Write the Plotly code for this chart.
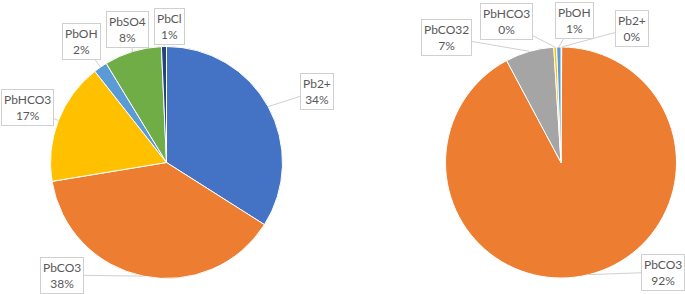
import math
import plotly.graph_objects as go

# ---- data ----
left_labels = ["Pb2+", "PbCO3", "PbHCO3", "PbOH", "PbSO4", "PbCl"]
left_values = [34.0, 38.4, 17.0, 1.9, 8.0, 0.7]

right_labels = ["Pb2+", "PbCO3", "PbCO32", "PbHCO3", "PbOH"]
right_values = [0.1, 92.1, 6.8, 0.4, 0.6]

# ---- styles ----
W, H = 685, 294
COLORS = {
    "Pb2+": "#4472C4", "PbCO3": "#ED7D31", "PbCO32": "#A5A5A5",
    "PbHCO3": "#FFC000", "PbOH": "#5B9BD5", "PbSO4": "#70AD47", "PbCl": "#264478",
}
FONT = dict(family="Lato, Carlito, Calibri, sans-serif", size=12, color="#595959")
LINE_COLOR = "#D0D0D0"

# pie geometry in pixels (cx, cy, r)
left_geom = (166.5, 162.5, 116)
right_geom = (561, 162.5, 115.5)

# label box centres in pixels
left_boxes = {"Pb2+": (317, 91), "PbCO3": (62, 275), "PbHCO3": (27, 108),
              "PbOH": (82, 41), "PbSO4": (127, 29), "PbCl": (169, 27)}
right_boxes = {"Pb2+": (632, 28), "PbCO3": (663, 272), "PbCO32": (446, 37),
               "PbHCO3": (506, 22), "PbOH": (574, 21)}


def domain(geom):
    cx, cy, r = geom
    return dict(x=[(cx - r) / W, (cx + r) / W], y=[1 - (cy + r) / H, 1 - (cy - r) / H])


fig = go.Figure()
annotations = []
for labels, values, geom, boxes in [
    (left_labels, left_values, left_geom, left_boxes),
    (right_labels, right_values, right_geom, right_boxes),
]:
    fig.add_trace(go.Pie(
        labels=labels, values=values, sort=False, direction="clockwise", rotation=0,
        marker=dict(colors=[COLORS[l] for l in labels], line=dict(color="white", width=1)),
        textinfo="none", hoverinfo="label+percent", domain=domain(geom), showlegend=False,
    ))
    total = sum(values)
    cx, cy, r = geom
    cum = 0.0
    for lab, v in zip(labels, values):
        mid = (cum + v / 2) / total * 2 * math.pi
        cum += v
        tx = cx + r * math.sin(mid)
        ty = cy - r * math.cos(mid)
        bx, by = boxes[lab]
        annotations.append(dict(
            x=tx / W, y=1 - ty / H, xref="paper", yref="paper",
            ax=bx - tx, ay=by - ty, axref="pixel", ayref="pixel",
            text=f"{lab}<br>{round(v / total * 100)}%",
            showarrow=True, arrowhead=0, arrowwidth=1, arrowcolor=LINE_COLOR, standoff=0,
            bordercolor=LINE_COLOR, borderwidth=1, borderpad=2, bgcolor="white",
            font=FONT, align="center",
        ))

fig.update_layout(
    width=W, height=H, margin=dict(l=0, r=0, t=0, b=0),
    paper_bgcolor="white", plot_bgcolor="white",
    annotations=annotations,
)
fig.write_html("out.html", config={"displayModeBar": False},
               post_script="document.body.style.margin='0';")
